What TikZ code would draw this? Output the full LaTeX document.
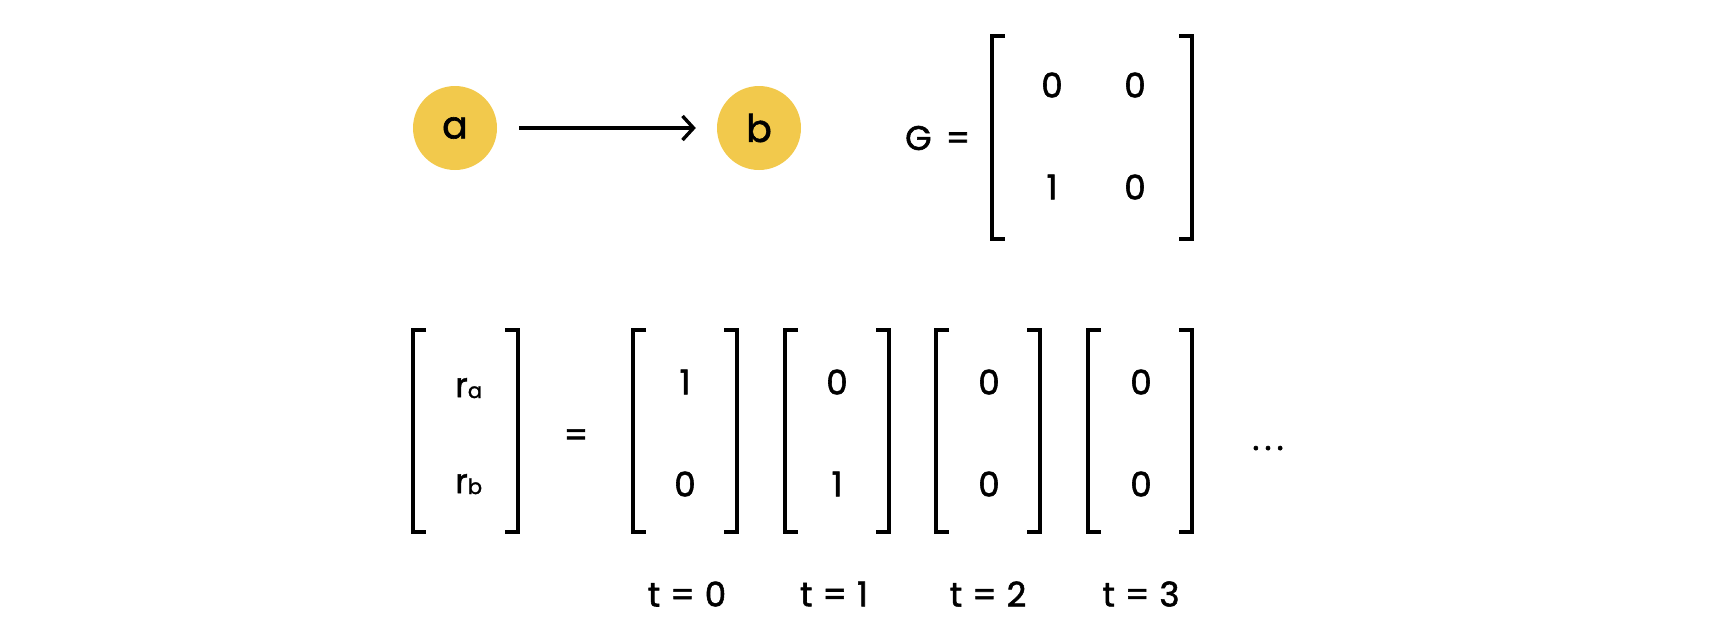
\documentclass[tikz,border=0pt]{standalone}
\usepackage{fontspec}
\setmainfont{Poppins}[UprightFeatures={FakeBold=1.6}]
\usetikzlibrary{arrows.meta}
\definecolor{nodeyellow}{HTML}{F2C94C}
\newcommand\brkpair[4]{%
  \draw[brk] (#1+13,#3) -- (#1,#3) -- (#1,#4) -- (#1+13,#4);
  \draw[brk] (#2-13,#3) -- (#2,#3) -- (#2,#4) -- (#2-13,#4);}
\begin{document}
\begin{tikzpicture}[x=1pt,y=-1pt,
  brk/.style={line width=3.4pt, line cap=butt, line join=miter},
  txt/.style={font=\fontsize{34}{38}\selectfont, inner sep=0pt},
  vtx/.style={circle, fill=nodeyellow, minimum size=84pt, inner sep=0pt,
              font=\fontsize{38}{42}\selectfont},
  edge/.style={line width=3.4pt, -{Straight Barb[length=11pt,width=24pt,line width=3.4pt]}}]
\useasboundingbox (0,0) rectangle (1734,630);
% graph
\node[vtx] (a) at (455,128) {a};
\node[vtx] (b) at (759,128) {b};
\draw[edge, shorten <=22pt, shorten >=21pt] (a) -- (b);
% G matrix
\node[txt, anchor=west] (G) at (905,138) {G\hspace{14pt}=};
\brkpair{992}{1192}{36}{239}
\node[txt] (g11) at (1052,85) {0};
\node[txt] (g12) at (1135,85) {0};
\node[txt] (g21) at (1052,187) {1};
\node[txt] (g22) at (1135,187) {0};
% r vector
\brkpair{413}{518}{330}{532}
\node[txt, anchor=base west] (ra) at (455,397) {r\raisebox{-1pt}{\fontsize{21}{24}\selectfont a}};
\node[txt, anchor=base west] (rb) at (455,493) {r\raisebox{-1pt}{\fontsize{21}{24}\selectfont b}};
\node[txt] (eq) at (576,438) {=};
% time vectors
\brkpair{633}{737}{330}{532}
\node[txt] (v0a) at (685,382) {1};
\node[txt] (v0b) at (685,484) {0};
\node[txt] (t0) at (687,594) {t\hspace{10pt}=\hspace{10pt}0};
\brkpair{785}{889}{330}{532}
\node[txt] (v1a) at (837,382) {0};
\node[txt] (v1b) at (837,484) {1};
\node[txt] (t1) at (834,594) {t\hspace{10pt}=\hspace{10pt}1};
\brkpair{936}{1040}{330}{532}
\node[txt] (v2a) at (989,382) {0};
\node[txt] (v2b) at (989,484) {0};
\node[txt] (t2) at (988,594) {t\hspace{10pt}=\hspace{10pt}2};
\brkpair{1088}{1192}{330}{532}
\node[txt] (v3a) at (1141,382) {0};
\node[txt] (v3b) at (1141,484) {0};
\node[txt] (t3) at (1141,594) {t\hspace{10pt}=\hspace{10pt}3};
\node[txt, anchor=base] (dots) at (1268,450) {.\hspace{5pt}.\hspace{5pt}.};
\end{tikzpicture}
\end{document}
